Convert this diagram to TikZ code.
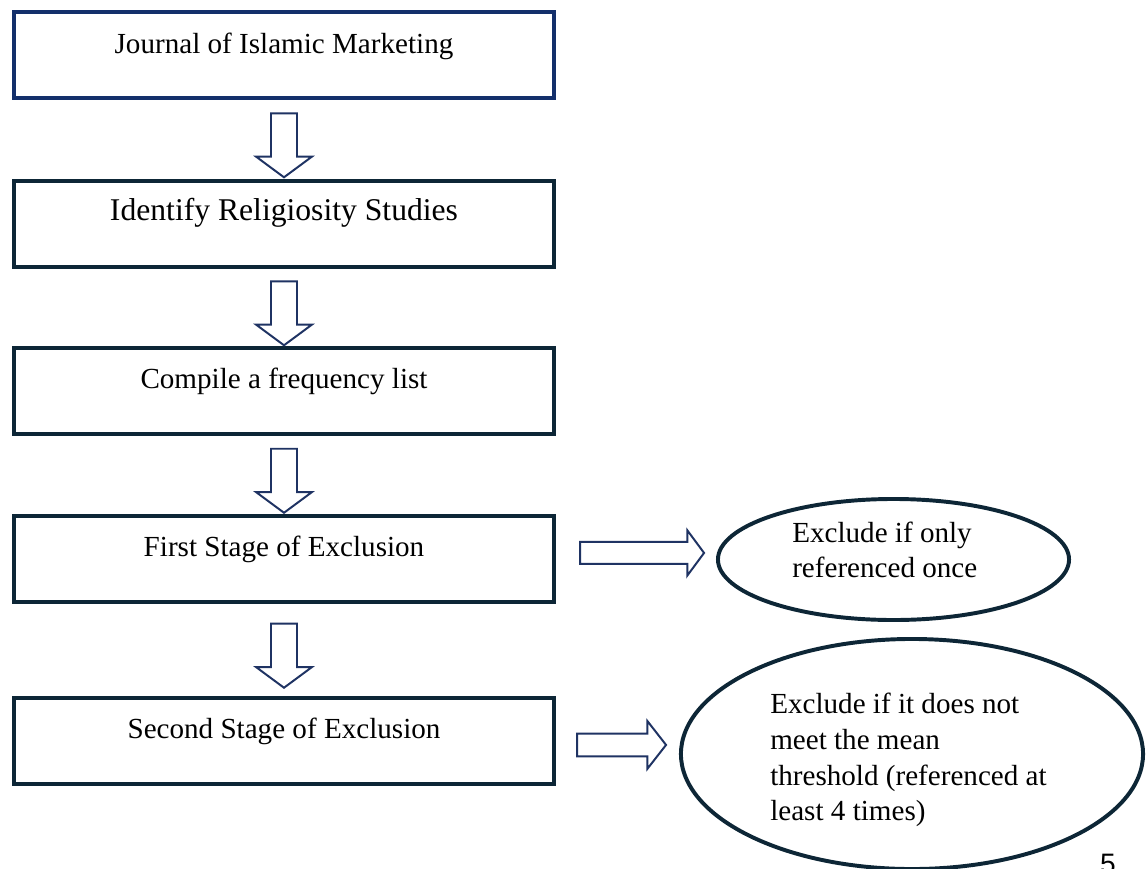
\documentclass[tikz,border=0pt]{standalone}
\usepackage{fontspec}
\setmainfont{Liberation Serif}
\newfontfamily\pagefont{Liberation Sans}
\usepackage{tikz}
\usetikzlibrary{calc,positioning,shapes,shapes.arrows}
\definecolor{navyblue}{RGB}{19,47,107}
\definecolor{darkslate}{RGB}{13,38,54}
\definecolor{arrowblue}{RGB}{31,51,99}

\begin{document}
\begin{tikzpicture}
              [x=0.025cm,y=-0.025cm,
                every node/.style={font=\fontsize{20.7}{25}\selectfont,inner sep=0pt},
                box/.style={rectangle,draw=darkslate,line width=2.8pt,minimum width=13.5cm,minimum height=2.15cm,text height=0.5cm,text depth=0.6cm},
                down/.style={single arrow,draw=arrowblue,line width=1.4pt,fill=white,shape border rotate=270,inner sep=0.3cm,single arrow head extend=0.375cm,single arrow tip angle=107,minimum height=1.6cm},
                side/.style={single arrow,draw=arrowblue,line width=1.4pt,fill=white,anchor=west},
                excl/.style={ellipse,draw=darkslate,line width=2.8pt},
                note/.style={align=left,anchor=west}]
              \useasboundingbox (0,0) rectangle (1147,869);
              \node[box,draw=navyblue] (n1) at (284,55) {Journal of Islamic Marketing};
              \node[box,font=\fontsize{22.5}{27}\selectfont,text depth=0.675cm] (n2) [below=1.975cm of n1] {Identify Religiosity Studies};
              \node[box] (n3) [below=1.925cm of n2] {Compile a frequency list};
              \node[box] (n4) [below=1.95cm of n3] {First Stage of Exclusion};
              \node[box] (n5) [below=2.3cm of n4] {Second Stage of Exclusion};
              % block arrows down the chain
              \foreach \from/\to/\name in {n1/n2/a1,n2/n3/a2,n3/n4/a3,n4/n5/a4}
              \node[down] (\name) at ($(\from.south)!0.5!(\to.north)+(0,1)$) {};
              % exclusion branches
              \node[excl,minimum width=8.775cm,minimum height=3.025cm] (e1) at (893.5,559.5) {};
              \node[excl,minimum width=11.55cm,minimum height=5.75cm] (e2) at (912,754) {};
              \node[side,inner sep=0.25cm,single arrow head extend=0.29cm,single arrow tip angle=107,minimum height=3.1cm] (r1) at ($(n4.east)+(23,-6)$) {};
              \node[side,inner sep=0.26cm,single arrow head extend=0.31cm,single arrow tip angle=104,minimum height=2.225cm] (r2) at ($(n5.east)+(20,4)$) {};
              \node[note,font=\fontsize{20.7}{24.8}\selectfont] (t1) at (792,549.6) {Exclude if only\\referenced once};
              \node[note,font=\fontsize{20.7}{25.5}\selectfont] (t2) at (770,760) {Exclude if it does not\\meet the mean\\threshold (referenced at\\least 4 times)};
              \node[anchor=base,font=\pagefont\fontsize{20}{24}\selectfont] (pg) at (1108,873) {5};
            \end{tikzpicture}
\end{document}
